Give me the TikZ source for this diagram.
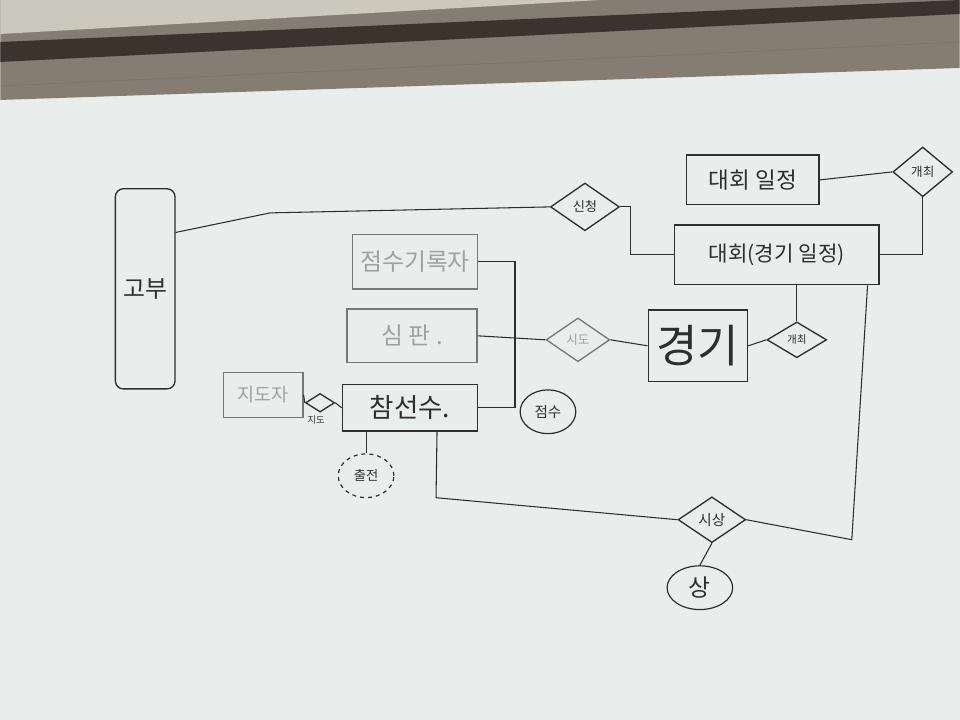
\documentclass[tikz,border=0pt]{standalone}
\usepackage{fontspec}
\newfontfamily\kr{Noto Sans CJK KR}
\usetikzlibrary{shapes.geometric,calc}
\definecolor{pen}{HTML}{2E2E2E}
\definecolor{board}{HTML}{E9EDEB}
\definecolor{frame}{HTML}{857D71}
\definecolor{frameDark}{HTML}{3B342E}
\definecolor{frameLight}{HTML}{CBC8BE}
\newcommand{\krsize}[1]{\kr\fontsize{#1}{#1}\selectfont}
\begin{document}
\begin{tikzpicture}[x=0.0265cm, y=-0.0265cm,
    entity/.style={rectangle, draw=pen, line width=1pt, text=pen, inner sep=0pt, font=\krsize{17pt}},
    faded/.style={draw=pen!65, text=pen!45},
    relation/.style={diamond, draw=pen, line width=1pt, text=pen, inner sep=0pt, font=\krsize{9.5pt}},
    attribute/.style={ellipse, draw=pen, line width=0.9pt, text=pen, inner sep=0pt, font=\krsize{11pt}},
    link/.style={draw=pen, line width=0.8pt}
]

% Board and frame
\fill[board] (0,0) rectangle (960,720);
\fill[frame] (0,0) -- (960,0) -- (960,68) -- (0,100) -- cycle;
\fill[frameLight] (0,0) -- (600,0) -- (0,34) -- cycle;
\fill[frameDark] (0,42) -- (960,0) -- (960,14) -- (0,62) -- cycle;
\draw[frameDark!70] (0,86) -- (960,42);
\useasboundingbox (0,0) rectangle (960,720);

% Left entity
\node (gobu) [entity, rounded corners=6pt, minimum width=45pt, minimum height=151pt, font=\krsize{18pt}] at (145,289) {고부};

% Entities of the match side
\node (scoreRec) [entity, faded, minimum width=94.5pt, minimum height=41pt, font=\krsize{18pt}] at (415,262) {점수기록자};
\node (judge) [entity, faded, minimum width=98pt, minimum height=40.5pt, font=\krsize{18pt}] at (412,336) {심 판 .};
\node (player) [entity, minimum width=102pt, minimum height=35pt, font=\krsize{20pt}] at (410,408) {참선수.};
\node (coach) [entity, faded, minimum width=60pt, minimum height=34pt, font=\krsize{14pt}] at (263,395) {지도자};

% Coaching relation
\node (guide) [relation, minimum width=22pt, minimum height=14pt] at (320,403) {};
\node (guidelbl) [text=pen, font=\krsize{7pt}, inner sep=0pt] at (316,420) {지도};
\node (chuljeon) [attribute, dashed, minimum width=42pt, minimum height=33pt, font=\krsize{10pt}] at (366,476) {출전};

% Match
\node (sido) [relation, faded, minimum width=48pt, minimum height=33pt] at (578,340) {시도};
\node (game) [entity, minimum width=75pt, minimum height=54pt, font=\krsize{34pt}] at (698,346) {경기};
\node (host2) [relation, minimum width=45pt, minimum height=27pt, font=\krsize{8pt}] at (797,340) {개최};
\node (jumsu) [attribute, minimum width=42pt, minimum height=33pt] at (548,412) {점수};

% Competition
\node (schedule) [entity, minimum width=100pt, minimum height=37.5pt, font=\krsize{17pt}] at (753,180) {대회 일정};
\node (compSched) [entity, minimum width=154pt, minimum height=45pt, font=\krsize{16pt}] at (777,255) {대회(경기 일정)};
\node (host1) [relation, minimum width=45pt, minimum height=37.5pt] at (923,172) {개최};
\node (apply) [relation, minimum width=52pt, minimum height=36pt, font=\krsize{10pt}] at (585,207) {신청};

% Award
\node (award) [relation, minimum width=51pt, minimum height=34.5pt, font=\krsize{11pt}] at (712,520) {시상};
\node (prize) [attribute, minimum width=49.5pt, minimum height=33pt, font=\krsize{18pt}] at (700,588) {상};

\coordinate (bus) at (515,340);
\coordinate (bendA) at (270,213);
\coordinate (bendB) at (436,498);
\coordinate (bendC) at (852,540);

% Connectors
\draw[link] ($(gobu.north east)!0.22!(gobu.south east)$) -- (bendA) -- (apply.west);
\draw[link] (apply.east) -- ++(10,0) |- (compSched.west);
\draw[link] (schedule.east) -- (host1.west);
\draw[link] (host1.south) |- (compSched.east);
\draw[link] (host2.north |- compSched.south) -- (host2.north);
\draw[link] (game.east) -- (host2.west);
\draw[link] (sido.east) -- (game.west);
\draw[link] (scoreRec.east) -| (bus) |- (player.east);
\draw[link] (judge.east) -- (sido.west);
\draw[link] (coach.east) -- (guide.west);
\draw[link] (guide.east) -- (player.west);
\draw[link] (chuljeon.north |- player.south) -- (chuljeon.north);
\draw[link] ($(player.south)+(27,0)$) -- (bendB) -- (award.west);
\draw[link] ($(compSched.south east)+(-12,0)$) -- (bendC) -- (award.east);
\draw[link] (award.south) -- (prize.north);

\end{tikzpicture}
\end{document}
